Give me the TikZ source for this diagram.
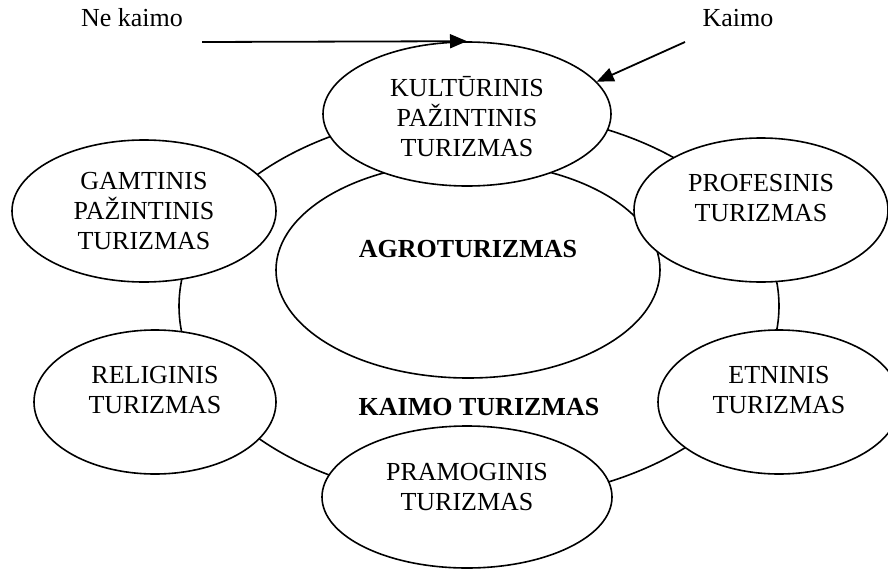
\documentclass[tikz,border=0pt]{standalone}
\usepackage{fontspec}
\setmainfont{Liberation Serif}
\usetikzlibrary{shapes.geometric, arrows.meta}

\begin{document}
\begin{tikzpicture}[
    x=1pt,
    y=-1pt,
    oval/.style={
        draw,
        ellipse,
        fill=white,
        line width=1.6pt,
        inner sep=0pt
    },
    txt/.style={
        align=center,
        inner sep=0pt,
        font=\fontsize{26}{30}\selectfont
    },
    bold/.style={
        txt,
        font=\fontsize{26}{30}\selectfont\bfseries
    },
    line/.style={
        draw,
        -{Triangle[length=17pt,width=14pt]},
        line width=1.8pt
    }
]
\useasboundingbox (0,0) rectangle (888,570);

% Ellipses
\node [oval, fill=none, minimum width=600pt, minimum height=390pt] (kaimo) at (479,306) {};
\node [oval, minimum width=384pt, minimum height=216pt] (agro) at (468,270) {};
\node [oval, minimum width=288pt, minimum height=144pt] (kult) at (467,114) {};
\node [oval, minimum width=264pt, minimum height=142pt] (gamt) at (144,211) {};
\node [oval, minimum width=254pt, minimum height=144pt] (prof) at (761,210) {};
\node [oval, minimum width=242pt, minimum height=144pt] (relig) at (155,402) {};
\node [oval, minimum width=242pt, minimum height=144pt] (etn) at (779,402) {};
\node [oval, minimum width=290pt, minimum height=142pt] (pram) at (467,497) {};

% Texts
\node [bold] (kaimotxt) at (479,407) {KAIMO TURIZMAS};
\node [bold] (agrotxt) at (468,249) {AGROTURIZMAS};
\node [txt] (kulttxt) at ([yshift=-3pt]kult.center) {KULTŪRINIS\\PAŽINTINIS\\TURIZMAS};
\node [txt] (gamttxt) at (gamt) {GAMTINIS\\PAŽINTINIS\\TURIZMAS};
\node [txt] (proftxt) at ([yshift=12pt]prof.center) {PROFESINIS\\TURIZMAS};
\node [txt] (religtxt) at ([yshift=12pt]relig.center) {RELIGINIS\\TURIZMAS};
\node [txt] (etntxt) at ([yshift=12pt]etn.center) {ETNINIS\\TURIZMAS};
\node [txt] (pramtxt) at ([yshift=10pt]pram.center) {PRAMOGINIS\\TURIZMAS};
\node [txt] (nekaimo) at (132,18) {Ne kaimo};
\node [txt] (kaimolbl) at (738,18) {Kaimo};

% Arrows
\coordinate (nkstart) at (202,42);
\coordinate (kstart) at (685,42);
\path [line] (nkstart) -- (kult.north);
\path [line] (kstart) -- (kult.14);

\end{tikzpicture}
\end{document}
